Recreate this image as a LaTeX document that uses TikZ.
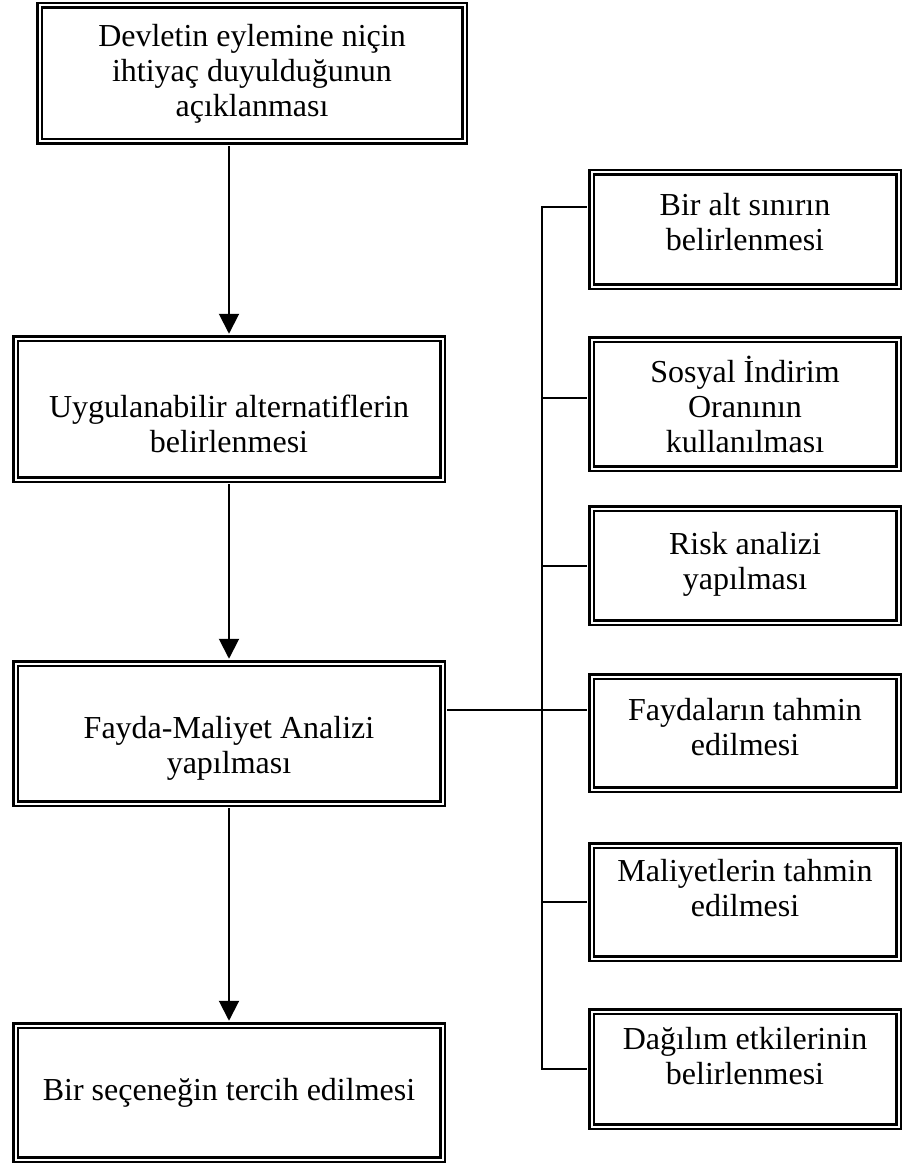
\documentclass[tikz,border=0pt]{standalone}
\usepackage{fontspec}
\setmainfont{Liberation Serif}
\usepackage{tikz}
\usetikzlibrary{arrows.meta,positioning,calc}

\newcommand{\pushdown}{\rule{0pt}{52pt}}
\newcommand{\liftup}[1]{\rule[-#1]{0pt}{#1}}

\begin{document}
\begin{tikzpicture}[x=1pt, y=-1pt]
  % Styles for the double framed boxes and the connectors
  \tikzstyle{dbox} = [rectangle, draw, line width=2.5pt, double=white, double distance=2pt, align=center, font=\fontsize{32}{35}\selectfont]
  \tikzstyle{mainbox} = [dbox, minimum width=427pt]
  \tikzstyle{sidebox} = [dbox, minimum width=307pt]
  \tikzstyle{link} = [line width=2pt, shorten <=3.5pt, shorten >=3.5pt]
  \tikzstyle{stub} = [line width=2pt, shorten >=3.5pt]
  \tikzstyle{arr} = [link, -{Triangle[width=20pt,length=20pt]}]

  \useasboundingbox (0,0) rectangle (903,1166);

  % Main chain on the left
  \node[mainbox, minimum width=425pt, minimum height=136pt] (need) at (252,73.5) {Devletin eylemine niçin\\ihtiyaç duyulduğunun\\açıklanması};
  \node[mainbox, minimum height=141pt] (alts) at (229,409) {\pushdown Uygulanabilir alternatiflerin\\belirlenmesi};
  \node[mainbox, minimum height=140pt] (fma) at (229,733.5) {\pushdown Fayda-Maliyet Analizi\\yapılması};
  \node[mainbox, minimum height=134pt] (choice) at (229,1092.5) {Bir seçeneğin tercih edilmesi};

  % Steps of the analysis on the right
  \node[sidebox, minimum height=114pt] (bound) at (745,229.5) {Bir alt sınırın\\belirlenmesi\liftup{16pt}};
  \node[sidebox, minimum height=129pt] (rate) at (745,404) {Sosyal İndirim\\Oranının\\kullanılması};
  \node[sidebox, minimum height=114pt] (risk) at (745,565.5) {Risk analizi\\yapılması\liftup{10pt}};
  \node[sidebox, minimum height=113pt] (benefit) at (745,733) {Faydaların tahmin\\edilmesi\liftup{12pt}};
  \node[sidebox, minimum height=113pt] (cost) at (745,902) {Maliyetlerin tahmin\\edilmesi\liftup{28pt}};
  \node[sidebox, minimum height=115pt] (dist) at (745,1069) {Dağılım etkilerinin\\belirlenmesi\liftup{26pt}};

  % Arrows down the chain
  \draw[arr] (alts.north |- need.south) -- (alts.north);
  \draw[arr] (alts.south) -- (fma.north);
  \draw[arr] (fma.south) -- (choice.north);

  % Bus line to the right column
  \coordinate (bus) at (542,0);
  \coordinate (boundin) at ([yshift=22.5pt]bound.west);
  \coordinate (ratein) at ([yshift=6pt]rate.west);
  \coordinate (fmaout) at ([yshift=23.5pt]fma.east);
  \draw[link] (boundin) -| (bus |- dist.west) -- (dist.west);
  \draw[stub] (bus |- ratein) -- (ratein);
  \draw[stub] (bus |- risk.west) -- (risk.west);
  \draw[stub] (bus |- cost.west) -- (cost.west);
  \draw[link] (fmaout) -- (fmaout -| benefit.west);

\end{tikzpicture}
\end{document}
